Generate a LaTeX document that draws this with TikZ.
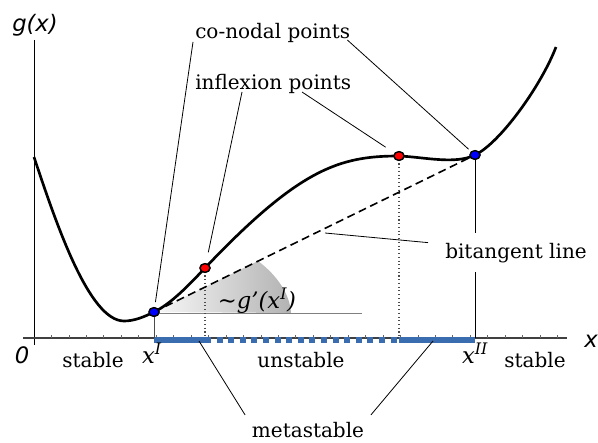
\documentclass[tikz,border=0pt]{standalone}
\usepackage{fontspec}
\setmainfont{DejaVu Serif}
\newfontfamily\axisfont{DejaVu Sans}
\usetikzlibrary{shapes.geometric,calc}

\definecolor{barblue}{RGB}{58,108,176}

\tikzset{
  lbl/.style={inner sep=0pt, font=\fontsize{15}{18}\selectfont},
  axlbl/.style={inner sep=0pt, font=\fontsize{17}{20}\selectfont\axisfont\itshape},
  leader/.style={line width=0.6pt},
  dot/.style={ellipse, draw=black, line width=1pt, minimum width=7.5pt, minimum height=6.5pt, inner sep=0pt},
  bar/.style={barblue, line width=4pt},
}

\begin{document}
\begin{tikzpicture}[x=0.75pt, y=-0.75pt]
    \useasboundingbox (0,0) rectangle (598,442);
    \coordinate (O) at (34,338);
    \coordinate (B) at (34,340);
    % slope wedge at x^I
    \shade[left color=gray!5, right color=gray!60] (154,312) -- (258,261) .. controls (278,276) and (290,295) .. (291,313) -- cycle;
    \draw[gray, line width=0.6pt] (154,313) -- (362,313);
    % axes
    \draw[line width=0.7pt] (34,40) -- (34,345);
    \draw[black!75, line width=0.8pt] (23,338) -- (567,338);
    \foreach \k in {1,...,30}
        \draw[black!60, line width=0.5pt] ({34+17.45*\k},338) -- ({34+17.45*\k},335);
    % points on the curve
    \node[dot, fill=blue] (xI) at (154,312) {};
    \node[dot, fill=red] (infI) at (205,268) {};
    \node[dot, fill=red] (infII) at (399,156) {};
    \node[dot, fill=blue] (xII) at (475,155) {};
    % stability bars
    \draw[bar] (xI |- B) -- (infI |- B);
    \draw[bar, dash pattern=on 4.5pt off 4.2pt] (infI |- B) -- (infII |- B);
    \draw[bar] (infII |- B) -- (xII |- B);
    \draw[black!70, line width=0.6pt] (xI.center) -- (xI |- O);
    \draw[line width=0.6pt] (xII.center) -- (xII |- O);
    \draw[black!70, dotted, line width=0.8pt] (infI.center) -- (infI |- O);
    \draw[black!70, dotted, line width=0.8pt] (infII.center) -- (infII |- O);
    \draw[line width=1.2pt, dash pattern=on 6pt off 3.5pt] (xI.center) -- (xII.center);
    % g(x)
    \draw[line width=2pt, line join=round] (34,157)
        .. controls (56,223) and (89,321) .. (124,321)
        .. controls (134,321) and (144,317) .. (xI.center)
        .. controls (171,303.7) and (188,286) .. (infI.center)
        .. controls (300,168) and (340,156) .. (infII.center)
        .. controls (424,157) and (455,164.8) .. (xII.center)
        .. controls (500,143) and (541,86) .. (556,47);
    \node[dot, fill=blue] at (xI) {};
    \node[dot, fill=red] at (infI) {};
    \node[dot, fill=red] at (infII) {};
    \node[dot, fill=blue] at (xII) {};
    % labels
    \node[axlbl, anchor=base] (gx) at (35,32) {g(x)};
    \node[axlbl, anchor=base] (xlab) at (591,347) {x};
    \node[axlbl, anchor=base] (zero) at (22,363) {0};
    \node[lbl, anchor=base, font=\fontsize{17}{20}\selectfont\itshape] (lxI) at (152,363) {x\textsuperscript{I}};
    \node[lbl, anchor=base, font=\fontsize{17}{20}\selectfont\itshape] (lxII) at (475,363) {x\textsuperscript{II}};
    \node[lbl, anchor=base] (stL) at (93,367) {stable};
    \node[lbl, anchor=base] (unst) at (301,367) {unstable};
    \node[lbl, anchor=base] (stR) at (535,367) {stable};
    \node[lbl, anchor=base, inner sep=5pt] (meta) at (308,437) {metastable};
    \node[lbl, anchor=base west] (conodal) at (195,39) {co-nodal points};
    \node[lbl, anchor=base west] (inflex) at (195,90) {inflexion points};
    \node[lbl, anchor=base, fill=white, inner xsep=9pt, inner ysep=7pt] (bitan) at (516,258) {bitangent line};
    \node[lbl, anchor=base, font=\fontsize{17}{20}\selectfont\itshape] (slope) at (257,308) {\textasciitilde g’(x\textsuperscript{I})};
    % leaders
    \draw[leader, shorten >=7.5pt] ($(conodal.base west)+(-2,3)$) -- (xI.center);
    \draw[leader, shorten >=6.5pt] ($(conodal.base east)+(-3,1)$) -- (xII.center);
    \draw[leader, shorten >=12pt] ($(inflex.base west)+(47,2)$) -- (infI.center);
    \draw[leader, shorten >=12pt] ($(inflex.base west)+(107,2)$) -- (infII.center);
    \coordinate (btfoot) at (325,233);
    \draw[leader] (btfoot) -- ([shift={(-5,-10)}]bitan.west);
    \coordinate (msL) at (199,341);
    \coordinate (msR) at (433,341);
    \draw[leader] (msL) -- (meta.north west);
    \draw[leader] (msR) -- (meta.north east);
\end{tikzpicture}
\end{document}
